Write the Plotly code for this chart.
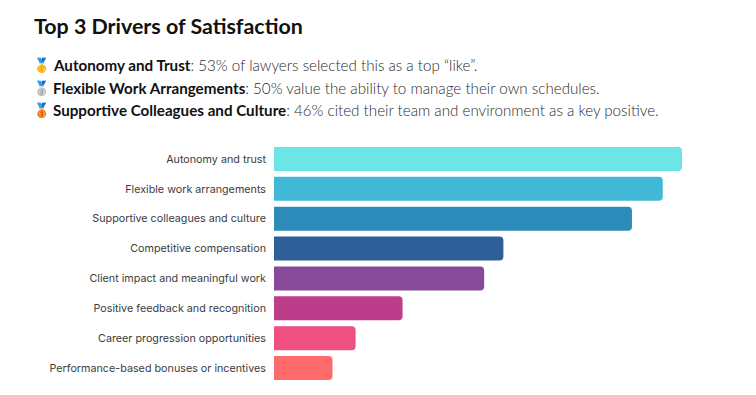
import plotly.graph_objects as go

categories = ["Autonomy and trust", "Flexible work arrangements", "Supportive colleagues and culture",
              "Competitive compensation", "Client impact and meaningful work", "Positive feedback and recognition",
              "Career progression opportunities", "Performance-based bonuses or incentives"]
values = [53, 50.5, 46.5, 29.8, 27.3, 16.7, 10.6, 7.6]
colors = ["#6CE5E8", "#41B8D5", "#2D8BBA", "#2F5F98", "#864A99", "#BC3E8B", "#F04F82", "#FF6B6B"]
title = "Top 3 Drivers of Satisfaction"
medals = ["🥇", "🥈", "🥉"]
heads = ["Autonomy and Trust", "Flexible Work Arrangements", "Supportive Colleagues and Culture"]
tails = [": 53% of lawyers selected this as a top “like”.",
         ": 50% value the ability to manage their own schedules.",
         ": 46% cited their team and environment as a key positive."]
OFF = 8  # page margin around the figure
W, H = 756 - 2 * OFF, 395 - 2 * OFF
L, R, T, B = 274 - OFF, 682 - OFF, 143.5 - OFF, 383.5 - OFF

fig = go.Figure(go.Bar(x=values, y=categories, orientation="h", marker=dict(color=colors, line_width=0),
                       hoverinfo="skip"))
def px(x): return (x - OFF - L) / (R - L)
def py(y): return (B - (y - OFF)) / (B - T)
ann = [dict(text=f"<b>{title}</b>", x=px(32), y=py(25.5), xref="paper", yref="paper", xanchor="left", yanchor="middle",
            showarrow=False, font=dict(family="Lato, sans-serif", size=21.4, color="#111"))]
for i, y in enumerate([64.5, 87.5, 109.5]):
    ann.append(dict(text=medals[i], x=px(31), y=py(y), xref="paper", yref="paper", xanchor="left", yanchor="middle",
                    showarrow=False, font=dict(size=14)))
    ann.append(dict(text=f"<span style='color:#111'><b>{heads[i]}</b></span>{tails[i]}", x=px(51), y=py(y),
                    xref="paper", yref="paper", xanchor="left", yanchor="middle", showarrow=False,
                    font=dict(family="Lato, sans-serif", size=15.18, color="#2a2a2a", weight=300)))
fig.update_layout(width=W, height=H, margin=dict(l=L, r=W - R, t=T, b=H - B), paper_bgcolor="white",
                  plot_bgcolor="white", showlegend=False, bargap=0.2, barcornerradius=4, annotations=ann,
                  font=dict(family="Inter, sans-serif"))
fig.update_xaxes(range=[0, 53], visible=False, fixedrange=True)
fig.update_yaxes(autorange="reversed", showgrid=False, showline=False, ticks="", ticklabelstandoff=7,
                 tickfont=dict(family="Inter, sans-serif", size=10.75, color="#3c3c3c"), automargin=False)
fig.write_html("out.html", config=dict(displayModeBar=False))
